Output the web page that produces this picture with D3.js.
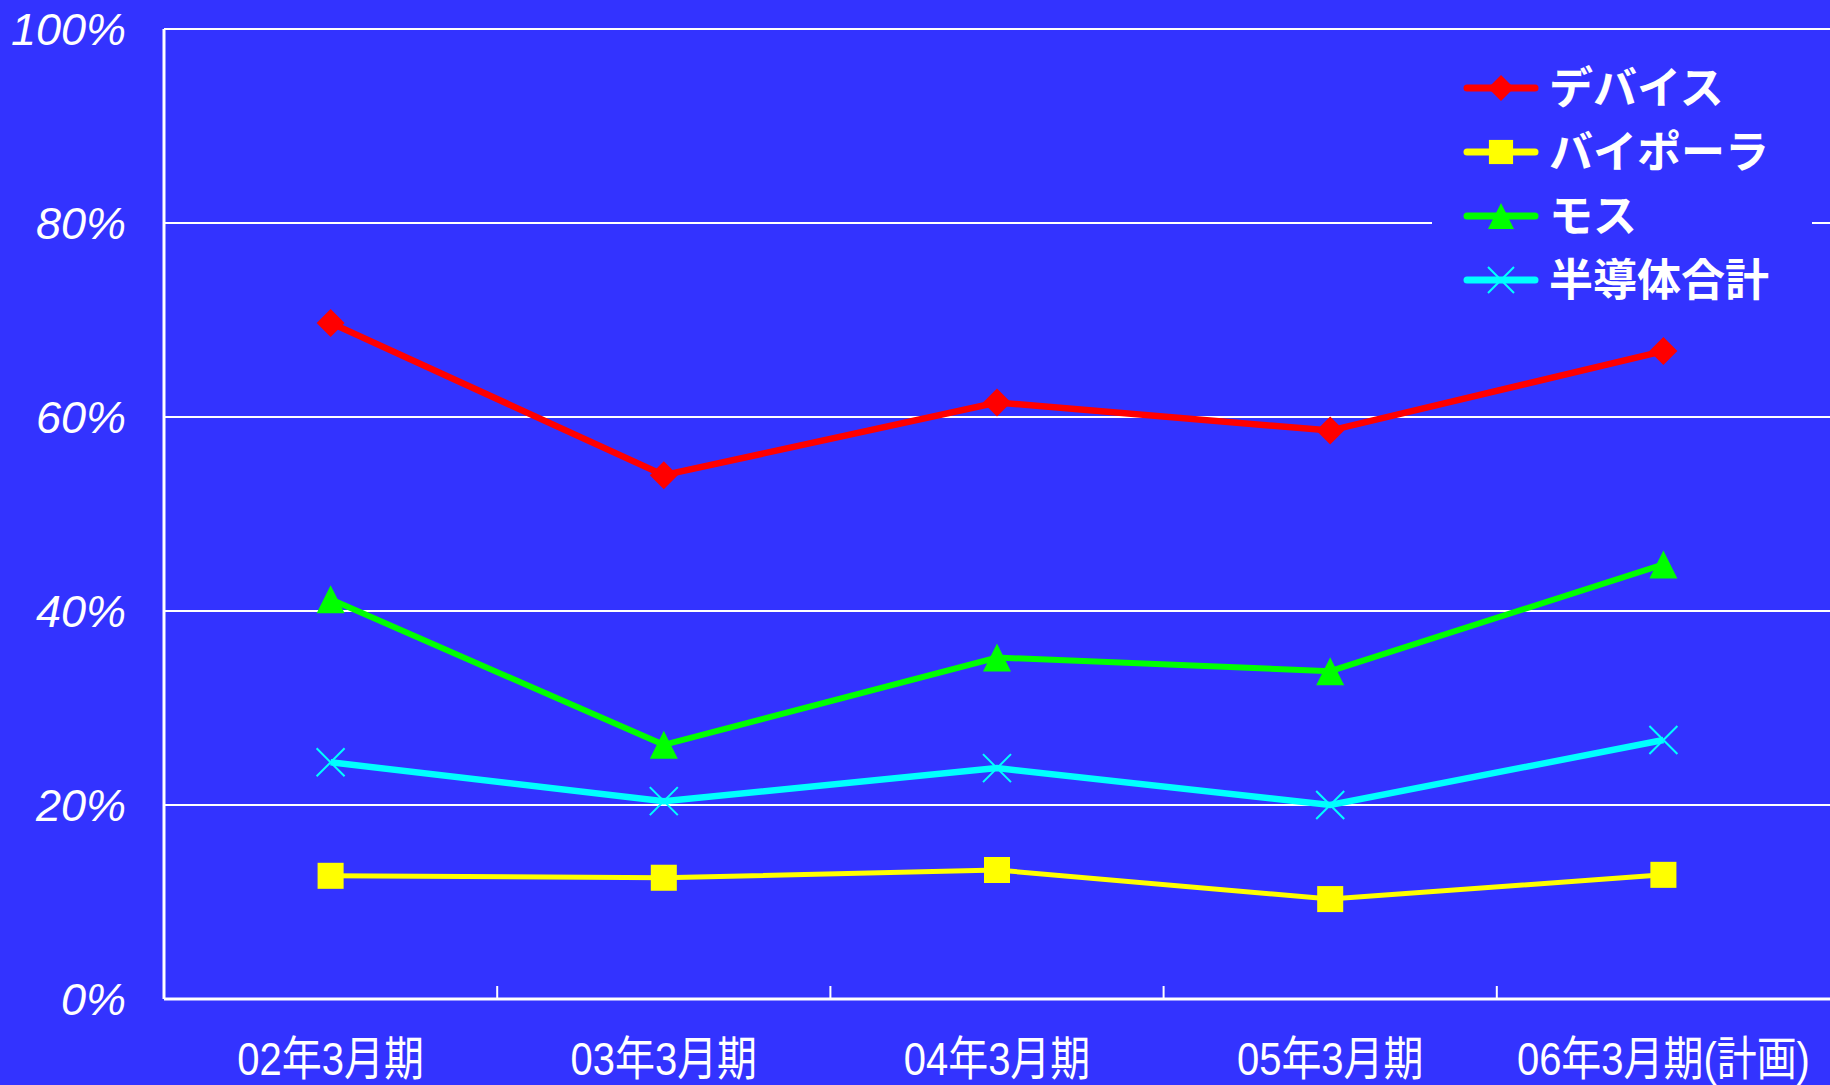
<!DOCTYPE html>
<html>
<head>
<meta charset="utf-8">
<script src="https://cdn.jsdelivr.net/npm/d3@7"></script>
<style>
  html, body { margin: 0; padding: 0; background: #3333ff; }
  svg { display: block; }
</style>
</head>
<body>
<svg id="chart" width="1830" height="1085"></svg>
<script>
// chart data
var categories = ["02年3月期", "03年3月期", "04年3月期", "05年3月期", "06年3月期(計画)"];
var seriesNames = ["デバイス", "バイポーラ", "モス", "半導体合計"];
var device = [69.7, 54.0, 61.5, 58.6, 66.8];
var bipolar = [12.7, 12.5, 13.3, 10.3, 12.8];
var mos = [41.2, 26.2, 35.2, 33.8, 44.8];
var total = [24.4, 20.4, 23.8, 20.0, 26.7];
var yTicks = [0, 20, 40, 60, 80, 100];

var seriesValues = [device, bipolar, mos, total],
    colors = ["#ff0000", "#ffff00", "#00ff00", "#00ffff"],
    shapes = ["diamond", "square", "triangle", "cross"],
    lineWidths = [6.5, 5, 6, 6.5];

var svg = d3.select("#chart"),
    margin = {top: 29, right: 0, bottom: 86, left: 164},
    width = 1830 - margin.left - margin.right,
    height = 1085 - margin.top - margin.bottom;

svg.append("rect")
    .attr("width", 1830)
    .attr("height", 1085)
    .attr("fill", "#3333ff");

var x = d3.scaleBand().domain(categories).range([0, width]),
    y = d3.scaleLinear().domain([0, 100]).range([height, 0]);

var g = svg.append("g")
    .attr("transform", "translate(" + margin.left + "," + margin.top + ")");

// gridlines
g.append("g")
    .attr("class", "grid")
    .selectAll("line")
    .data(yTicks.filter(function (d) { return d > 0; }))
    .enter()
    .append("line")
    .attr("x1", 0)
    .attr("x2", width)
    .attr("y1", function (d) { return y(d); })
    .attr("y2", function (d) { return y(d); })
    .attr("stroke", "white")
    .attr("stroke-width", 2);

// y axis labels
g.append("g")
    .attr("class", "axis axis--y")
    .selectAll("text")
    .data(yTicks)
    .enter()
    .append("text")
    .attr("x", -38)
    .attr("y", function (d) { return y(d); })
    .attr("dy", "0.36em")
    .attr("text-anchor", "end")
    .attr("fill", "white")
    .attr("font-family", "'Liberation Sans', Arial, sans-serif")
    .attr("font-style", "italic")
    .attr("font-size", "45px")
    .text(function (d) { return d + "%"; });

// axis lines
g.append("line")
    .attr("x1", 0).attr("x2", width)
    .attr("y1", height).attr("y2", height)
    .attr("stroke", "white").attr("stroke-width", 3);

g.append("line")
    .attr("x1", 0).attr("x2", 0)
    .attr("y1", 0).attr("y2", height)
    .attr("stroke", "white").attr("stroke-width", 3);

// ticks sit on the band boundaries
g.append("g")
    .selectAll("line")
    .data(categories.slice(1))
    .enter()
    .append("line")
    .attr("x1", function (d) { return x(d); })
    .attr("x2", function (d) { return x(d); })
    .attr("y1", height)
    .attr("y2", height - 13)
    .attr("stroke", "white")
    .attr("stroke-width", 2);

// x labels (condensed)
g.append("g")
    .attr("class", "axis axis--x")
    .selectAll("text")
    .data(categories)
    .enter()
    .append("text")
    .attr("transform", function (d) {
        return "translate(" + (x(d) + x.bandwidth() / 2) + "," + (height + 76) + ") scale(0.85,1)";
    })
    .attr("text-anchor", "middle")
    .attr("fill", "white")
    .attr("font-family", "'Liberation Sans', 'Noto Sans CJK JP', sans-serif")
    .attr("font-size", "47px")
    .text(function (d) { return d; });

function markerPath(shape, s) {
    if (shape === "diamond") {
        return "M0," + (-s) + "L" + s + ",0L0," + s + "L" + (-s) + ",0Z";
    } else if (shape === "square") {
        var h = s * 0.93;
        return "M" + (-h) + "," + (-h) + "H" + h + "V" + h + "H" + (-h) + "Z";
    } else if (shape === "triangle") {
        return "M0," + (-s) + "L" + s + "," + s + "L" + (-s) + "," + s + "Z";
    }
    return "M" + (-s) + "," + (-s) + "L" + s + "," + s +
        "M" + (-s) + "," + s + "L" + s + "," + (-s);
}

function drawMarker(sel, i, s) {
    sel.append("path")
        .attr("d", markerPath(shapes[i], s))
        .attr("fill", shapes[i] === "cross" ? "none" : colors[i])
        .attr("stroke", colors[i])
        .attr("stroke-width", shapes[i] === "cross" ? 2 : 0);
}

var line = d3.line()
    .x(function (d, j) { return x(categories[j]) + x.bandwidth() / 2; })
    .y(function (d) { return y(d); });

// series
seriesValues.forEach(function (vals, i) {
    var sg = g.append("g").attr("class", "series");
    sg.append("path")
        .datum(vals)
        .attr("d", line)
        .attr("fill", "none")
        .attr("stroke", colors[i])
        .attr("stroke-width", lineWidths[i]);
    vals.forEach(function (v, j) {
        var m = sg.append("g")
            .attr("transform", "translate(" + (x(categories[j]) + x.bandwidth() / 2) + "," + y(v) + ")");
        drawMarker(m, i, 14);
    });
});

// legend
var legend = svg.append("g").attr("class", "legend");
legend.append("rect")
    .attr("x", 1432).attr("y", 50)
    .attr("width", 380).attr("height", 265)
    .attr("fill", "#3333ff");

seriesNames.forEach(function (name, i) {
    var ly = 88 + i * 64;
    var row = legend.append("g").attr("transform", "translate(0," + ly + ")");
    row.append("line")
        .attr("x1", 1467).attr("x2", 1535)
        .attr("y1", 0).attr("y2", 0)
        .attr("stroke", colors[i])
        .attr("stroke-width", 7)
        .attr("stroke-linecap", "round");
    var m = row.append("g").attr("transform", "translate(1501,0)");
    drawMarker(m, i, 13);
    row.append("text")
        .attr("x", 1549)
        .attr("y", 0)
        .attr("dy", "0.36em")
        .attr("fill", "white")
        .attr("font-family", "'Noto Sans CJK JP', sans-serif")
        .attr("font-weight", "bold")
        .attr("font-size", "44px")
        .text(name);
});
</script>
</body>
</html>
